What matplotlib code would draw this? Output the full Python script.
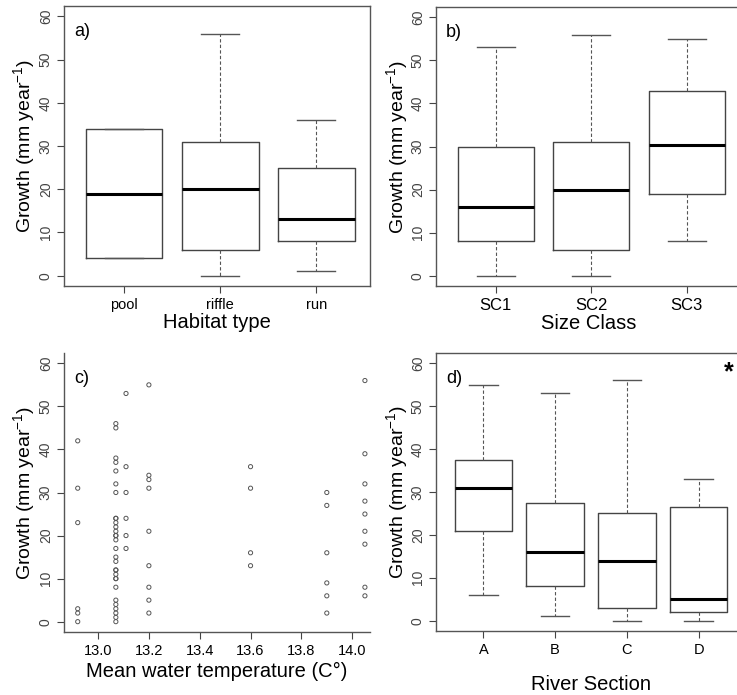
import numpy as np
import matplotlib
matplotlib.use("Agg")
import matplotlib.pyplot as plt

plt.rcParams['font.family'] = ['Liberation Sans', 'DejaVu Sans']
plt.rcParams['mathtext.fontset'] = 'custom'
plt.rcParams['mathtext.rm'] = 'Liberation Sans'
plt.rcParams['mathtext.it'] = 'Liberation Sans:italic'
plt.rcParams['mathtext.default'] = 'regular'

# a) habitat type
hab_names = ['pool', 'riffle', 'run']
hab_q1 = [4, 6, 8]
hab_med = [19, 20, 13]
hab_q3 = [34, 31, 25]
hab_lo = [4, 0, 1]
hab_hi = [34, 56, 36]

# b) size class
sc_names = ['SC1', 'SC2', 'SC3']
sc_q1 = [8, 6, 19]
sc_med = [16, 20, 30.4]
sc_q3 = [30, 31, 43]
sc_lo = [0, 0, 8]
sc_hi = [53, 56, 55]

# c) growth vs mean water temperature
temp_x = ([12.92] * 6 + [13.07] * 30 + [13.11] * 6 + [13.2] * 9 +
          [13.6] * 4 + [13.9] * 6 + [14.05] * 9)
growth_y = ([42, 31, 23, 3, 2, 0] +
            [46, 45, 38, 37, 35, 32, 30, 24, 23, 22, 21, 20, 19, 17, 15,
             14, 12, 11, 10, 8, 5, 4, 3, 2, 1, 0, 24, 20, 12, 10] +
            [53, 36, 30, 24, 20, 17] +
            [55, 34, 33, 31, 21, 13, 8, 5, 2] +
            [36, 31, 16, 13] +
            [30, 27, 16, 9, 6, 2] +
            [56, 39, 32, 28, 25, 21, 18, 8, 6])

# d) river section
sec_names = ['A', 'B', 'C', 'D']
sec_q1 = [21, 8, 3, 2]
sec_med = [31, 16, 14, 5]
sec_q3 = [37.5, 27.5, 25, 26.5]
sec_lo = [6, 1, 0, 0]
sec_hi = [55, 53, 56, 33]

W, H = 737, 695
fig = plt.figure(figsize=(W / 100, H / 100), dpi=100)


def px_axes(l, t, r, b):
    return fig.add_axes([l / W, 1 - b / H, (r - l) / W, (b - t) / H])


def style_y(ax):
    ax.set_ylim(-2.4, 62.4)
    ax.set_yticks(range(0, 61, 10))
    ax.tick_params(axis='y', labelrotation=90, labelsize=10, colors='#444',
                   length=5, width=0.8, pad=3)
    for lab in ax.get_yticklabels():
        lab.set_va('center')
    ax.set_ylabel('Growth (mm year$^{-1}$)', fontsize=14, labelpad=1)
    ax.tick_params(axis='x', length=5, width=0.8, colors='#444', labelsize=10.5)
    for lab in ax.get_xticklabels():
        lab.set_color('black')
    for s in ax.spines.values():
        s.set_color('#555')
        s.set_linewidth(1)


def boxes(ax, names, q1, med, q3, lo, hi):
    stats = []
    for i in range(len(names)):
        stats.append(dict(q1=q1[i], med=med[i], q3=q3[i],
                          whislo=lo[i], whishi=hi[i], fliers=[], label=names[i]))
    ax.bxp(stats, widths=0.8, capwidths=0.4, showfliers=False,
           boxprops=dict(color='#444', linewidth=1),
           medianprops=dict(color='black', linewidth=2.2),
           whiskerprops=dict(color='#555', linewidth=0.8, linestyle=(0, (3, 2))),
           capprops=dict(color='#555', linewidth=1))


# a)
ax1 = px_axes(64, 6, 370, 286)
boxes(ax1, hab_names, hab_q1, hab_med, hab_q3, hab_lo, hab_hi)
ax1.set_xlim(0.375, 3.56)
style_y(ax1)
ax1.set_xlabel('Habitat type', fontsize=14.5, labelpad=1)
ax1.text(0.033, 0.91, 'a)', transform=ax1.transAxes, fontsize=13, va='center')

# b)
ax2 = px_axes(436, 7, 742, 286)
boxes(ax2, sc_names, sc_q1, sc_med, sc_q3, sc_lo, sc_hi)
ax2.set_xlim(0.372, 3.58)
style_y(ax2)
for lab in ax2.get_xticklabels():
    lab.set_fontsize(12)
ax2.set_xlabel('Size Class', fontsize=14.5, labelpad=1)
ax2.text(0.033, 0.91, 'b)', transform=ax2.transAxes, fontsize=13, va='center')

# c)
ax3 = px_axes(64, 353, 370, 632)
ax3.scatter(temp_x, growth_y, s=9, facecolors='none', edgecolors='#555',
            linewidths=0.7)
ax3.set_xlim(12.866, 14.07)
ax3.set_xticks([13.0, 13.2, 13.4, 13.6, 13.8, 14.0])
ax3.set_xticklabels(['13.0', '13.2', '13.4', '13.6', '13.8', '14.0'])
style_y(ax3)
ax3.spines['top'].set_visible(False)
ax3.spines['right'].set_visible(False)
ax3.set_xlabel('Mean water temperature (C°)', fontsize=14.5, labelpad=3)
ax3.text(0.033, 0.91, 'c)', transform=ax3.transAxes, fontsize=13, va='center')

# d)
ax4 = px_axes(436, 353, 746, 631)
boxes(ax4, sec_names, sec_q1, sec_med, sec_q3, sec_lo, sec_hi)
ax4.set_xlim(0.34, 4.66)
style_y(ax4)
ax4.set_xlabel('River Section', fontsize=14.5, labelpad=13)
ax4.text(0.033, 0.91, 'd)', transform=ax4.transAxes, fontsize=13, va='center')
ax4.text(0.945, 0.93, '*', transform=ax4.transAxes, fontsize=18,
         fontweight='bold', va='center', ha='center')

fig.savefig('out.png', dpi=100)
